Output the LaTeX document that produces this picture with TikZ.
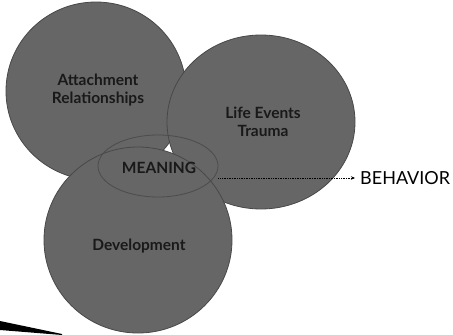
\documentclass[tikz,border=0pt]{standalone}
\usepackage{fontspec}
\setmainfont{Lato}
\usetikzlibrary{arrows.meta,shapes.geometric}
\definecolor{discfill}{HTML}{666666}
\definecolor{discedge}{HTML}{484848}
\tikzset{
  disc/.style={ellipse, fill=discfill, draw=discedge, line width=0.8pt, inner sep=0pt},
  disclabel/.style={font=\bfseries\fontsize{15.5}{18}\selectfont, text=black!90, align=center},
  core/.style={ellipse, draw=black!70, line width=0.8pt, inner sep=0pt, minimum width=120pt, minimum height=62pt},
  outcome/.style={font=\fontsize{18}{18}\selectfont, text=black, anchor=west, inner sep=0pt},
  link/.style={densely dotted, line width=0.7pt, -{Stealth[length=4pt,width=3.5pt]}}
}
\begin{document}
\begin{tikzpicture}[x=1pt,y=-1pt]
  \useasboundingbox[fill=white] (0,0) rectangle (453,335);
  % three overlapping discs
  \node[disc, minimum width=180pt, minimum height=178pt] (attach) at (96,91) {};
  \node[disc, minimum width=188pt, minimum height=174pt] (life) at (261,122) {};
  \node[disc, minimum width=188pt, minimum height=186pt] (dev) at (138,240) {};
  % labels
  \node[disclabel] (attachtext) at (98,90) {Attachment\\Relationships};
  \node[disclabel] (lifetext) at (263,122) {Life Events\\Trauma};
  \node[disclabel] (devtext) at (139,246) {Development};
  % the shared core
  \node[core] (meaning) at (158,166) {};
  \node[disclabel] (meaningtext) at (159,168) {MEANING};
  % outcome
  \node[outcome] (behavior) at (360,178) {BEHAVIOR};
  \draw[link] (meaning.east |- behavior.west) -- ([xshift=-5pt]behavior.west);
  % dark streak in the lower left corner
  \fill[black] (0,321) -- (62,334) -- (62,335) -- (0,330) -- cycle;
\end{tikzpicture}
\end{document}
